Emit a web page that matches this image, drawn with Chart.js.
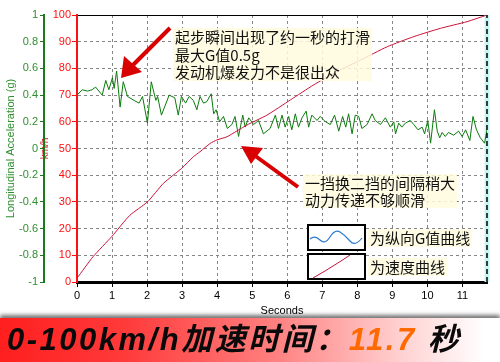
<!DOCTYPE html>
<html>
<head>
<meta charset="utf-8">
<script src="https://cdn.jsdelivr.net/npm/chart.js@4"></script>
<style>
  body { margin: 0; background: #fff; }
  #wrap { position: relative; width: 500px; height: 362px; overflow: hidden; }
  #chart { position: absolute; left: 0; top: 0; }
  .note {
    position: absolute;
    font-family: "Noto Sans CJK SC", sans-serif;
    font-size: 15px;
    line-height: 17.5px;
    color: #111;
    background: rgba(255, 252, 222, 0.85);
    padding: 0 2px;
    white-space: nowrap;
  }
  #overlay { position: absolute; left: 0; top: 0; }
  .banner {
    position: absolute; left: 0; top: 318px; width: 500px; height: 44px;
    background: linear-gradient(to right, #ff1f1f 0%, #ff3a3a 25%, #ff8080 55%, #ffd0d0 80%, #ffffff 97%);
    box-shadow: 0 -3px 4px rgba(0, 0, 0, 0.55);
    font-family: "Liberation Sans", "Noto Sans CJK SC", sans-serif;
    font-weight: bold; font-style: italic;
    font-size: 31px; letter-spacing: 2.5px;
    line-height: 44px; padding-left: 7px; box-sizing: border-box;
    white-space: nowrap; color: #0a0a0a;
  }
  .banner .num { color: #ff6a00; }
</style>
</head>
<body>
<div id="wrap">
  <canvas id="chart" width="500" height="362"></canvas>
  <svg id="overlay" width="500" height="362">
    <!-- arrows -->
    <line x1="170" y1="28" x2="132" y2="66" stroke="#d80000" stroke-width="4"/>
    <polygon points="121,78 124,56 142,72" fill="#d80000"/>
    <line x1="298" y1="187" x2="254" y2="155" stroke="#d80000" stroke-width="4"/>
    <polygon points="241,146 263,148 251,164" fill="#d80000"/>
    <!-- legend samples -->
    <rect x="308" y="225" width="57" height="25" fill="#fff" stroke="#000" stroke-width="2"/>
    <path d="M310 239 Q315 235 320 240 T330 237 T340 232 T350 241 T362 238" fill="none" stroke="#2a7ad0" stroke-width="1.2"/>
    <rect x="308" y="254" width="57" height="25" fill="#fff" stroke="#000" stroke-width="2"/>
    <polyline points="313,278 325,271 333,266 341,261 350,255" fill="none" stroke="#c8103a" stroke-width="1"/>
  </svg>
  <div class="note" style="left:173px; top:28px;">起步瞬间出现了约一秒的打滑<br>最大G值0.5g<br>发动机爆发力不是很出众</div>
  <div class="note" style="left:303px; top:174px; line-height:17px;">一挡换二挡的间隔稍大<br>动力传递不够顺滑</div>
  <div class="note" style="left:368px; top:229px;">为纵向G值曲线</div>
  <div class="note" style="left:368px; top:258px;">为速度曲线</div>
  <div class="banner">0-100km/h加速时间：<span class="num">11.7</span> 秒</div>
</div>
<script>
// time axis ticks (seconds) and y tick labels
const xTicks = [0, 1, 2, 3, 4, 5, 6, 7, 8, 9, 10, 11];
const speedTicks = [0, 10, 20, 30, 40, 50, 60, 70, 80, 90, 100];
const gTicks = [-1, -0.8, -0.6, -0.4, -0.2, 0, 0.2, 0.4, 0.6, 0.8, 1];
const endTime = 11.7;

// speed curve (km/h)
const speedTime = [0, 0.46, 0.99, 1.51, 2.01, 2.47, 2.99, 3.32, 3.51, 3.8, 3.99, 4.28, 4.85, 5.42, 6.09, 6.75, 7.42, 8.09, 8.85, 9.61, 10.37, 11.13, 11.7];
const speedKmh = [1.4, 9.5, 17, 25, 30, 37, 42.6, 46.9, 48.8, 51.9, 53.2, 54.4, 58.8, 62.5, 68.2, 73.8, 78.8, 83.1, 88.1, 91.9, 95, 97.5, 100];

// longitudinal acceleration (g)
const accelTime = [0, 0.15, 0.3, 0.43, 0.53, 0.72, 0.82, 0.91, 1.01, 1.06, 1.13, 1.23, 1.32, 1.44, 1.63, 1.77, 1.87, 2.01, 2.12, 2.25, 2.3, 2.41, 2.63, 2.79, 2.89, 2.98, 3.1, 3.2, 3.32, 3.42, 3.51, 3.61, 3.7, 3.83, 3.9, 3.97, 4.07, 4.18, 4.29, 4.42, 4.51, 4.61, 4.73, 4.8, 4.9, 5.04, 5.18, 5.32, 5.51, 5.66, 5.75, 5.85, 5.94, 6.04, 6.13, 6.23, 6.32, 6.42, 6.54, 6.61, 6.7, 6.85, 6.94, 7.09, 7.23, 7.35, 7.47, 7.58, 7.67, 7.75, 7.85, 7.94, 8.04, 8.13, 8.28, 8.42, 8.51, 8.66, 8.8, 8.94, 9.04, 9.09, 9.18, 9.27, 9.37, 9.51, 9.61, 9.73, 9.85, 9.92, 10.01, 10.09, 10.2, 10.28, 10.35, 10.42, 10.51, 10.6, 10.75, 10.89, 10.99, 11.09, 11.21, 11.3, 11.4, 11.51, 11.63, 11.7];
const accelG = [0.40, 0.44, 0.43, 0.44, 0.46, 0.40, 0.51, 0.44, 0.53, 0.45, 0.58, 0.31, 0.50, 0.39, 0.36, 0.34, 0.39, 0.19, 0.50, 0.36, 0.39, 0.25, 0.40, 0.38, 0.25, 0.39, 0.34, 0.39, 0.36, 0.29, 0.39, 0.34, 0.35, 0.41, 0.26, 0.29, 0.20, 0.24, 0.15, 0.18, 0.24, 0.09, 0.25, 0.16, 0.23, 0.18, 0.21, 0.11, 0.15, 0.25, 0.15, 0.25, 0.16, 0.24, 0.14, 0.26, 0.16, 0.23, 0.28, 0.16, 0.25, 0.21, 0.24, 0.20, 0.18, 0.25, 0.13, 0.24, 0.16, 0.26, 0.11, 0.25, 0.24, 0.15, 0.18, 0.26, 0.21, 0.18, 0.23, 0.16, 0.20, 0.11, 0.19, 0.16, 0.19, 0.21, 0.18, 0.14, 0.16, 0.11, 0.21, 0.04, 0.29, 0.13, 0.08, 0.12, 0.09, 0.12, 0.10, 0.13, 0.09, 0.14, 0.06, 0.24, 0.14, 0.08, 0.04, 0.14];

const tickFont = { family: 'Liberation Sans', size: 11 };
const gridDash = [3, 3];

const speedPoints = speedTime.map((t, i) => ({ x: t, y: speedKmh[i] }));
const accelPoints = accelTime.map((t, i) => ({ x: t, y: accelG[i] }));
const cursorPoints = [{ x: endTime, y: 0 }, { x: endTime, y: 100 }];

new Chart(document.getElementById('chart'), {
    type: 'line',
    data: {
        datasets: [
            {
                data: cursorPoints, yAxisID: 'ySpeed',
                borderColor: '#000', borderWidth: 1.5, borderDash: [5, 3],
                pointRadius: 0, clip: 4
            },
            {
                data: speedPoints, yAxisID: 'ySpeed',
                borderColor: '#cc1038', borderWidth: 1,
                pointRadius: 0, tension: 0.2
            },
            {
                data: accelPoints, yAxisID: 'yG',
                borderColor: '#0b7a0b', borderWidth: 1,
                pointRadius: 0, tension: 0
            },
            {
                data: cursorPoints, yAxisID: 'ySpeed',
                borderColor: '#c8f4f4', borderWidth: 5,
                pointRadius: 0, clip: 4
            }
        ]
    },
    options: {
        responsive: false,
        animation: false,
        layout: { padding: { left: 0, right: 13, top: 15, bottom: 44 } },
        plugins: { legend: { display: false }, tooltip: { enabled: false } },
        scales: {
            x: {
                type: 'linear', min: 0, max: endTime,
                afterBuildTicks: s => { s.ticks = xTicks.map(v => ({ value: v })); },
                afterFit: s => { s.height = 36; },
                ticks: { color: '#000', font: tickFont, padding: 2, maxRotation: 0, autoSkip: false, callback: v => String(v) },
                grid: { color: '#858585', tickColor: '#000', tickLength: 5 },
                border: { color: '#000', width: 3, dash: gridDash },
                title: { display: true, text: 'Seconds', color: '#000', font: tickFont, padding: 0 }
            },
            ySpeed: {
                type: 'linear', position: 'left', weight: 0, min: 0, max: 100,
                afterBuildTicks: s => { s.ticks = speedTicks.map(v => ({ value: v })); },
                afterFit: s => { s.width = 33; },
                ticks: { color: '#ff1010', font: tickFont, padding: 1, callback: v => String(v) },
                grid: {
                    color: ctx => (ctx.tick && ctx.tick.value === 100 ? '#000' : '#858585'),
                    tickColor: '#ff1010', tickLength: 5
                },
                border: {
                    color: '#ff1010', width: 2,
                    dash: ctx => (ctx.tick && ctx.tick.value === 100 ? [] : gridDash)
                },
                title: { display: true, text: 'km/h', color: '#cc1010', font: { family: 'Liberation Sans', size: 10 }, padding: -5 }
            },
            yG: {
                type: 'linear', position: 'left', weight: 1, min: -1, max: 1,
                afterBuildTicks: s => { s.ticks = gTicks.map(v => ({ value: v })); },
                afterFit: s => { s.width = 44; },
                ticks: { color: '#2f8f2f', font: tickFont, padding: 2, callback: v => String(v) },
                grid: { drawOnChartArea: false, tickColor: '#1a7a1a', tickLength: 4 },
                border: { color: '#1a7a1a', width: 2 },
                title: { display: true, text: 'Longitudinal Acceleration (g)', color: '#2f8f2f', font: tickFont, padding: 4 }
            }
        }
    }
});
</script>
</body>
</html>
